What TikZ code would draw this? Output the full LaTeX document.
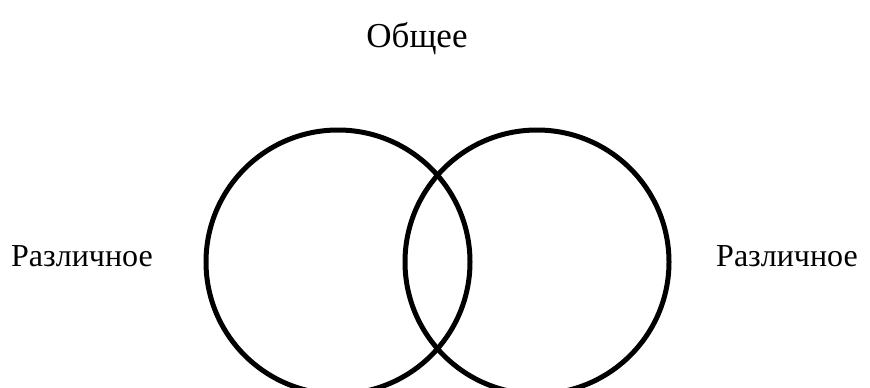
\documentclass[tikz,border=0pt]{standalone}
\usepackage{fontspec}
\setmainfont{Liberation Serif}
\begin{document}
\begin{tikzpicture}[x=1pt,y=-1pt,
  ring/.style={draw=black,line width=5pt},
  lbl/.style={font=\fontsize{32}{38}\selectfont,inner sep=0pt},
  ttl/.style={font=\fontsize{35}{42}\selectfont,inner sep=0pt}]
\useasboundingbox (0,0) rectangle (870,388);
\begin{scope}
\clip (0,0) rectangle (870,388);
\node[ring,circle,minimum size=264pt,inner sep=0pt] (L) at (338,262) {};
\node[ring,circle,minimum size=264pt,inner sep=0pt] (R) at (537,262) {};
\end{scope}
\node[ttl,anchor=base] (T) at (417,47) {Общее};
\node[lbl,anchor=base west] (A) at (11,266) {Различное};
\node[lbl,anchor=base west] (B) at (716,266) {Различное};
\end{tikzpicture}
\end{document}
